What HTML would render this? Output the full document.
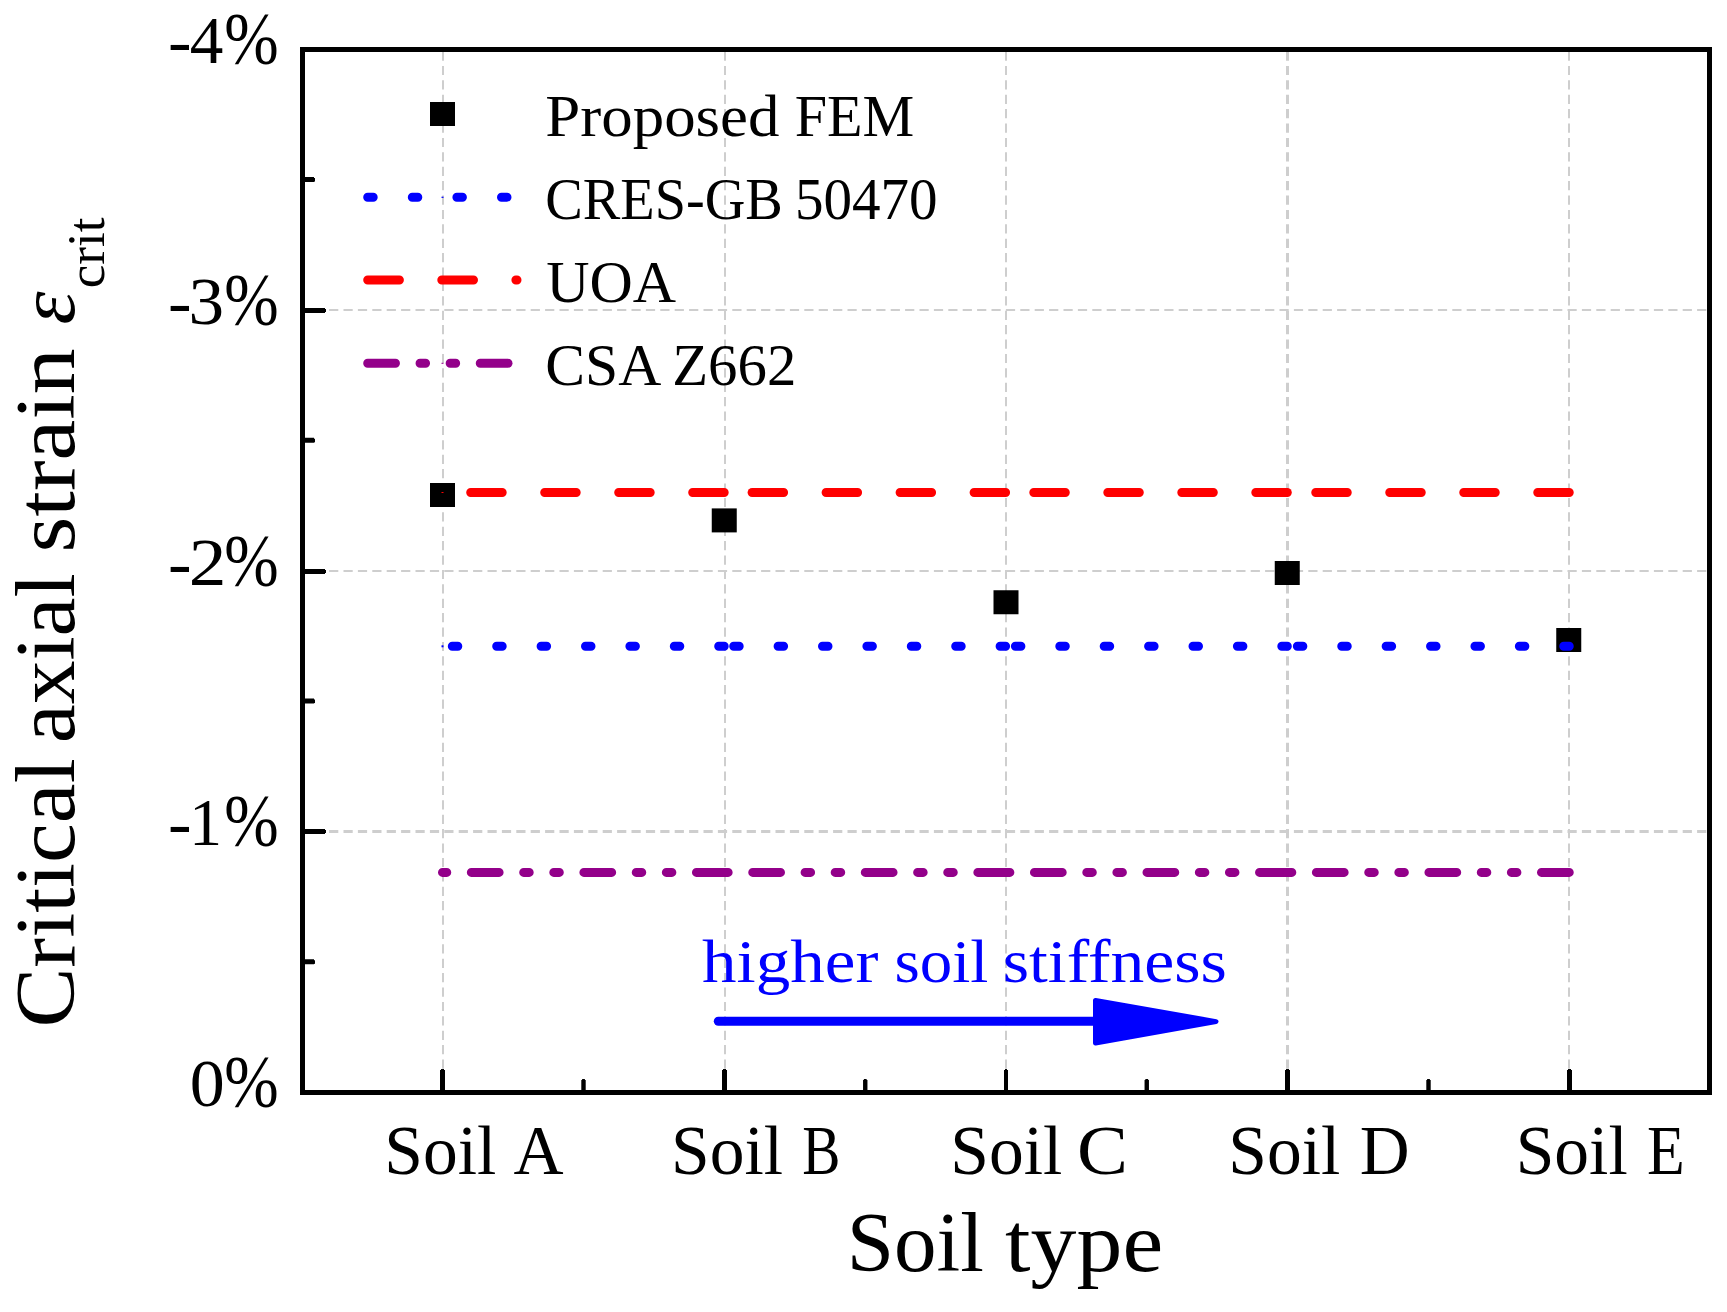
<!DOCTYPE html>
<html lang="en">
<head>
<meta charset="utf-8">
<title>Critical axial strain vs soil type</title>
<style>html,body{margin:0;padding:0;background:#fff;overflow:hidden}svg{display:block}</style>
</head>
<body>
<svg width="1727" height="1312" viewBox="0 0 1727 1312" font-family="'Liberation Serif', serif" fill="#000">
<rect width="1727" height="1312" fill="#fff"/>
<g stroke="#cecece" fill="none" stroke-dasharray="9.2 5.2">
<line x1="443" y1="51.5" x2="443" y2="1090" stroke-width="2"/>
<line x1="725" y1="51.5" x2="725" y2="1090" stroke-width="2"/>
<line x1="1006" y1="51.5" x2="1006" y2="1090" stroke-width="2"/>
<line x1="1287.5" y1="51.5" x2="1287.5" y2="1090" stroke-width="3"/>
<line x1="1569" y1="51.5" x2="1569" y2="1090" stroke-width="2"/>
<line x1="300.3" y1="310" x2="1707" y2="310" stroke-width="2"/>
<line x1="300.3" y1="571" x2="1707" y2="571" stroke-width="2"/>
<line x1="300.3" y1="831.5" x2="1707" y2="831.5" stroke-width="3"/>
</g>
<rect x="302.5" y="49.5" width="1407" height="1043" fill="none" stroke="#000" stroke-width="5"/>
<g fill="#000">
<rect x="440" y="1070" width="5" height="21"/><rect x="441" y="1069" width="3" height="1"/>
<rect x="722" y="1070" width="5" height="21"/><rect x="723" y="1069" width="3" height="1"/>
<rect x="1004" y="1070" width="4" height="21"/><rect x="1005" y="1069" width="2" height="1"/>
<rect x="1285" y="1070" width="5" height="21"/><rect x="1286" y="1069" width="3" height="1"/>
<rect x="1567" y="1070" width="5" height="21"/><rect x="1568" y="1069" width="3" height="1"/>
<rect x="581.30" y="1080" width="4.4" height="11"/><rect x="582.10" y="1079" width="2.8" height="1"/>
<rect x="863.05" y="1080" width="4.4" height="11"/><rect x="863.85" y="1079" width="2.8" height="1"/>
<rect x="1144.55" y="1080" width="4.4" height="11"/><rect x="1145.35" y="1079" width="2.8" height="1"/>
<rect x="1426.30" y="1080" width="4.4" height="11"/><rect x="1427.10" y="1079" width="2.8" height="1"/>
<rect x="304" y="308" width="21" height="5"/><rect x="325" y="309" width="1" height="3"/>
<rect x="304" y="569" width="21" height="5"/><rect x="325" y="570" width="1" height="3"/>
<rect x="304" y="829" width="21" height="5"/><rect x="325" y="830" width="1" height="3"/>
<rect x="304" y="177.00" width="10" height="5"/><rect x="314" y="178.00" width="1" height="3.6"/>
<rect x="304" y="437.75" width="10" height="5"/><rect x="314" y="438.75" width="1" height="3.6"/>
<rect x="304" y="698.50" width="10" height="5"/><rect x="314" y="699.50" width="1" height="3.6"/>
<rect x="304" y="959.25" width="10" height="5"/><rect x="314" y="960.25" width="1" height="3.6"/>
</g>
<rect x="430.00" y="483.00" width="25" height="24" fill="#000"/>
<rect x="711.75" y="508.40" width="25" height="24" fill="#000"/>
<rect x="993.50" y="590.25" width="25" height="24" fill="#000"/>
<rect x="1274.75" y="561.00" width="25" height="24" fill="#000"/>
<rect x="1556.25" y="628.00" width="25" height="24" fill="#000"/>
<rect x="430.00" y="102.00" width="25" height="24" fill="#000"/>
<g stroke="#ff0000" stroke-width="9" stroke-linecap="round" stroke-dasharray="31.5 42.5" fill="none">
<line x1="724.2" y1="492.5" x2="442.5" y2="492.5"/>
<line x1="1005.6" y1="492.5" x2="724.2" y2="492.5"/>
<line x1="1287.3" y1="492.5" x2="1005.6" y2="492.5"/>
<line x1="1569.25" y1="492.5" x2="1287.3" y2="492.5"/>
</g>
<g stroke="#0000ff" stroke-width="9" stroke-linecap="round" stroke-dasharray="5.5 38.9" fill="none">
<line x1="724.2" y1="646.25" x2="442.5" y2="646.25"/>
<line x1="1005.6" y1="646.25" x2="724.2" y2="646.25"/>
<line x1="1287.3" y1="646.25" x2="1005.6" y2="646.25"/>
<line x1="1569.25" y1="646.25" x2="1287.3" y2="646.25"/>
</g>
<g stroke="#93008a" stroke-width="9" stroke-linecap="round" stroke-dasharray="27.75 24.6 5.5 24.6 5.5 24.6" fill="none">
<line x1="724.2" y1="872.4" x2="442.5" y2="872.4"/>
<line x1="1005.6" y1="872.4" x2="724.2" y2="872.4"/>
<line x1="1287.3" y1="872.4" x2="1005.6" y2="872.4"/>
<line x1="1569.25" y1="872.4" x2="1287.3" y2="872.4"/>
</g>
<rect x="441.5" y="645.3" width="2" height="2" fill="#0000ff"/>
<rect x="441.5" y="492" width="2" height="1" fill="#ff0000"/>
<line x1="367.7" y1="197.25" x2="517" y2="197.25" stroke="#0000ff" stroke-width="9" stroke-linecap="round" stroke-dasharray="5.5 39.1"/>
<line x1="367.7" y1="280" x2="517" y2="280" stroke="#ff0000" stroke-width="9" stroke-linecap="round" stroke-dasharray="31.7 42.4"/>
<line x1="367.7" y1="363.25" x2="517" y2="363.25" stroke="#93008a" stroke-width="9" stroke-linecap="round" stroke-dasharray="27.75 24.6 5.5 24.6 5.5 24.6"/>
<rect x="441.5" y="196.7" width="2" height="1.2" fill="#0000ff"/>
<rect x="441.5" y="362.8" width="2" height="1" fill="#93008a"/>
<line x1="718.3" y1="1021.3" x2="1100" y2="1021.3" stroke="#0000ff" stroke-width="9" stroke-linecap="round"/>
<polygon points="1095.5,1000.5 1216,1021.6 1095.5,1043" fill="#0000ff" stroke="#0000ff" stroke-width="5" stroke-linejoin="round"/>
<text y="63.00" font-size="68.44"><tspan x="167.95" y="63.00" textLength="23.57" lengthAdjust="spacingAndGlyphs">-</tspan><tspan x="189.66" y="63.00" textLength="33.60" lengthAdjust="spacingAndGlyphs">4</tspan><tspan x="224.21" font-size="73.80" y="63.98" textLength="54.44" lengthAdjust="spacingAndGlyphs">%</tspan></text>
<text y="324.00" font-size="68.44"><tspan x="167.95" y="324.00" textLength="23.57" lengthAdjust="spacingAndGlyphs">-</tspan><tspan x="188.52" y="324.00" textLength="35.58" lengthAdjust="spacingAndGlyphs">3</tspan><tspan x="224.21" font-size="73.80" y="324.98" textLength="54.44" lengthAdjust="spacingAndGlyphs">%</tspan></text>
<text y="585.00" font-size="68.44"><tspan x="167.95" y="585.00" textLength="23.57" lengthAdjust="spacingAndGlyphs">-</tspan><tspan x="188.70" y="585.00" textLength="37.70" lengthAdjust="spacingAndGlyphs">2</tspan><tspan x="224.21" font-size="73.80" y="585.98" textLength="54.44" lengthAdjust="spacingAndGlyphs">%</tspan></text>
<text y="845.00" font-size="68.44"><tspan x="167.95" y="845.00" textLength="23.57" lengthAdjust="spacingAndGlyphs">-</tspan><tspan x="188.95" y="845.00" textLength="33.12" lengthAdjust="spacingAndGlyphs">1</tspan><tspan x="224.21" font-size="73.80" y="845.98" textLength="54.44" lengthAdjust="spacingAndGlyphs">%</tspan></text>
<text y="1106.00" font-size="68.44"><tspan x="189.88" textLength="35.00" lengthAdjust="spacingAndGlyphs">0</tspan><tspan x="224.21" font-size="73.80" y="1106.98" textLength="54.44" lengthAdjust="spacingAndGlyphs">%</tspan></text>
<text y="1174.00" font-size="69.77"><tspan x="384.31" textLength="112.04" lengthAdjust="spacingAndGlyphs">Soil</tspan> <tspan x="513.41" textLength="50.09" lengthAdjust="spacingAndGlyphs">A</tspan></text>
<text y="1174.00" font-size="69.77"><tspan x="671.06" textLength="112.04" lengthAdjust="spacingAndGlyphs">Soil</tspan> <tspan x="802.18" textLength="38.15" lengthAdjust="spacingAndGlyphs">B</tspan></text>
<text y="1174.00" font-size="69.77"><tspan x="950.31" textLength="112.04" lengthAdjust="spacingAndGlyphs">Soil</tspan> <tspan x="1076.94" textLength="50.97" lengthAdjust="spacingAndGlyphs">C</tspan></text>
<text y="1174.00" font-size="69.77"><tspan x="1228.31" textLength="112.04" lengthAdjust="spacingAndGlyphs">Soil</tspan> <tspan x="1359.80" textLength="49.84" lengthAdjust="spacingAndGlyphs">D</tspan></text>
<text y="1174.00" font-size="69.77"><tspan x="1515.71" textLength="112.04" lengthAdjust="spacingAndGlyphs">Soil</tspan> <tspan x="1646.90" textLength="37.74" lengthAdjust="spacingAndGlyphs">E</tspan></text>
<text y="1270.80" font-size="85.50"><tspan x="846.65" textLength="137.19" lengthAdjust="spacingAndGlyphs">Soil</tspan> <tspan x="1005.08" textLength="158.06" lengthAdjust="spacingAndGlyphs">type</tspan></text>
<text y="136.20" font-size="59.54"><tspan x="545.27" textLength="234.25" lengthAdjust="spacingAndGlyphs">Proposed</tspan> <tspan x="794.65" textLength="119.52" lengthAdjust="spacingAndGlyphs">FEM</tspan></text>
<text y="219.00" font-size="59.54"><tspan x="545.25" textLength="237.60" lengthAdjust="spacingAndGlyphs">CRES-GB</tspan> <tspan x="794.97" textLength="142.67" lengthAdjust="spacingAndGlyphs">50470</tspan></text>
<text y="301.90" font-size="59.54"><tspan x="546.30" textLength="129.84" lengthAdjust="spacingAndGlyphs">UOA</tspan></text>
<text y="384.80" font-size="59.54"><tspan x="545.18" textLength="112.77" lengthAdjust="spacingAndGlyphs">CSA</tspan> <tspan x="672.21" textLength="124.08" lengthAdjust="spacingAndGlyphs">Z662</tspan></text>
<text y="981.60" font-size="61.50" fill="#0000ff"><tspan x="702.11" textLength="176.29" lengthAdjust="spacingAndGlyphs">higher</tspan> <tspan x="894.40" textLength="93.89" lengthAdjust="spacingAndGlyphs">soil</tspan> <tspan x="1002.80" textLength="223.99" lengthAdjust="spacingAndGlyphs">stiffness</tspan></text>
<text transform="translate(74.3 0) rotate(-90)" y="0" font-size="85.50"><tspan x="-1027.49" textLength="269.11" lengthAdjust="spacingAndGlyphs">Critical</tspan> <tspan x="-743.06" textLength="169.89" lengthAdjust="spacingAndGlyphs">axial</tspan> <tspan x="-552.43" textLength="204.24" lengthAdjust="spacingAndGlyphs">strain</tspan> <tspan font-style="italic" font-size="80.85" x="-324.58" textLength="33.01" lengthAdjust="spacingAndGlyphs">ε</tspan><tspan dy="29.6" font-size="52.17" x="-288.29" textLength="70.86" lengthAdjust="spacingAndGlyphs">crit</tspan></text>
</svg>
</body>
</html>
